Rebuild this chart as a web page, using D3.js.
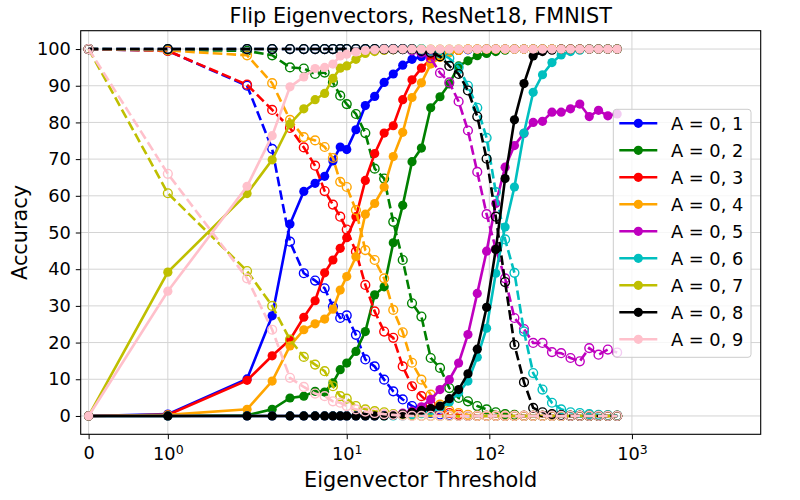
<!DOCTYPE html>
<html>
<head>
<meta charset="utf-8">
<script src="https://cdn.jsdelivr.net/npm/d3@7"></script>
<style>
  body { margin: 0; background: #fff; }
  text { font-family: "DejaVu Sans", sans-serif; }
</style>
</head>
<body>
<div id="chart"></div>
<script>
// eigenvector thresholds (x values)
var thresholds = [0, 1, 2, 3, 4, 5, 6, 7, 8, 9, 10, 11.6, 13.5, 15.7, 18.3, 21.2, 24.7, 28.7, 33.4, 38.8,
  45.1, 52.4, 60.9, 70.8, 82.3, 95.7, 111, 129, 150, 175, 203, 236, 275, 319, 371, 431, 502, 583, 678, 788];

// solid lines = accuracy, dashed lines = flipped
var acc1 = [0, 0.5, 10.1, 27.3, 52.3, 61.2, 63.4, 65.3, 69.5, 73.3, 72.6, 78.0, 84.6, 87.1, 90.9, 93.2, 95.6, 97.2, 97.9, 98.5,
  99.0, 99.3, 99.6, 99.8, 99.9, 100, 100, 100, 100, 100, 100, 100, 100, 100, 100, 100, 100, 100, 100, 100];
var flip1 = [100, 99.5, 90.0, 72.8, 47.5, 38.9, 36.9, 34.8, 29.8, 26.7, 27.4, 22.1, 15.4, 13.5, 9.9, 6.7, 4.5, 2.7, 1.5, 0.8,
  0.4, 0.2, 0.1, 0, 0, 0, 0, 0, 0, 0, 0, 0, 0, 0, 0, 0, 0, 0, 0, 0];
var acc2 = [0, 0, 0.2, 1.8, 4.9, 5.4, 6.7, 6.5, 9.0, 12.6, 14.4, 17.6, 23.0, 33.0, 35.2, 47.2, 57.4, 69.3, 73.0, 84.0,
  87.0, 90.5, 95.4, 96.8, 98.2, 98.8, 99.3, 99.7, 100, 100, 100, 100, 100, 100, 100, 100, 100, 100, 100, 100];
var flip2 = [100, 99.8, 99.5, 98.3, 95.0, 94.7, 93.2, 93.6, 90.9, 87.3, 85.0, 82.3, 77.1, 67.4, 64.7, 52.9, 42.5, 30.7, 27.1, 15.8,
  13.1, 7.6, 4.9, 4.0, 2.7, 1.8, 1.0, 0.5, 0.3, 0, 0, 0, 0, 0, 0, 0, 0, 0, 0, 0];
var acc3 = [0, 0.3, 9.7, 16.4, 20.8, 26.9, 31.4, 39.0, 42.5, 45.7, 48.6, 54.3, 64.2, 71.5, 77.1, 79.1, 86.2, 91.6, 94.8, 97.2,
  98.6, 99.3, 99.7, 100, 100, 100, 100, 100, 100, 100, 100, 100, 100, 100, 100, 100, 100, 100, 100, 100];
var flip3 = [100, 99.5, 90.3, 83.4, 78.5, 73.2, 68.2, 61.3, 57.6, 54.3, 50.8, 44.8, 35.7, 28.5, 23.0, 21.3, 13.5, 8.1, 5.4, 3.1,
  1.5, 0.8, 0.3, 0.1, 0, 0, 0, 0, 0, 0, 0, 0, 0, 0, 0, 0, 0, 0, 0, 0];
var acc4 = [0, 0.3, 1.8, 9.5, 19.1, 23.5, 25.1, 26.4, 29.1, 34.3, 38.0, 43.4, 55.0, 57.9, 62.4, 70.7, 77.3, 86.8, 90.8, 95.9,
  97.7, 99.0, 99.6, 100, 100, 100, 100, 100, 100, 100, 100, 100, 100, 100, 100, 100, 100, 100, 100, 100];
var flip4 = [100, 99.6, 98.3, 90.7, 80.7, 76.0, 75.1, 73.3, 70.3, 63.8, 62.4, 56.1, 45.2, 42.5, 37.5, 28.9, 22.8, 14.5, 9.9, 5.8,
  3.1, 1.5, 0.8, 0.3, 0, 0, 0, 0, 0, 0, 0, 0, 0, 0, 0, 0, 0, 0, 0, 0];
var acc5 = [0, 0, 0, 0, 0, 0, 0, 0, 0, 0, 0, 0, 0, 0, 0.2, 0.4, 0.8, 1.3, 2.5, 4.5,
  7.2, 9.9, 14.4, 22.2, 33.4, 44.9, 57.9, 67.8, 73.7, 77.0, 80.0, 80.3, 82.8, 82.8, 83.7, 85.0, 81.6, 83.3, 81.8, 82.3];
var flip5 = [100, 100, 100, 100, 100, 100, 100, 100, 100, 100, 100, 100, 100, 100, 100, 100, 100, 99.6, 99.0, 97.5,
  93.5, 90.9, 85.7, 77.8, 66.5, 55.0, 45.5, 37.5, 26.7, 23.7, 19.9, 19.9, 17.4, 17.1, 15.8, 14.9, 18.5, 16.7, 18.1, 17.3];
var acc6 = [0, 0, 0, 0, 0, 0, 0, 0, 0, 0, 0, 0, 0, 0, 0, 0, 0, 0.3, 0.6, 1.2,
  2.2, 3.8, 6.3, 9.5, 16.0, 23.9, 38.9, 51.5, 62.4, 77.1, 88.2, 93.0, 96.3, 98.4, 99.3, 99.7, 100, 100, 100, 100];
var flip6 = [100, 100, 100, 100, 100, 100, 100, 100, 100, 100, 100, 100, 100, 100, 100, 100, 100, 100, 100, 99.5,
  98.8, 97.5, 95.0, 90.0, 84.0, 75.8, 61.0, 48.1, 39.0, 23.0, 11.7, 7.2, 3.6, 1.8, 1.0, 0.8, 0.5, 0.3, 0.2, 0.1];
var acc7 = [0, 39.2, 60.6, 69.8, 79.6, 83.7, 86.2, 87.9, 92.0, 94.8, 95.4, 97.2, 98.8, 99.3, 99.6, 99.8, 99.9, 100, 100, 100,
  100, 100, 100, 100, 100, 100, 100, 100, 100, 100, 100, 100, 100, 100, 100, 100, 100, 100, 100, 100];
var flip7 = [100, 60.7, 39.5, 30.0, 20.8, 16.1, 14.0, 12.2, 8.1, 5.4, 4.7, 2.7, 1.8, 1.3, 1.0, 0.5, 0.3, 0.1, 0, 0,
  0, 0, 0, 0, 0, 0, 0, 0, 0, 0, 0, 0, 0, 0, 0, 0, 0, 0, 0, 0];
var acc8 = [0, 0, 0, 0, 0, 0, 0, 0, 0, 0, 0, 0, 0, 0, 0, 0.2, 0.5, 1.0, 1.5, 2.0,
  2.7, 4.7, 7.2, 11.5, 18.2, 29.6, 45.4, 64.7, 80.7, 90.6, 98.1, 99.3, 99.7, 100, 100, 100, 100, 100, 100, 100];
var flip8 = [100, 100, 100, 100, 100, 100, 100, 100, 100, 100, 100, 100, 100, 100, 100, 100, 100, 100, 99.5, 99.0,
  98.0, 95.4, 93.2, 88.7, 81.6, 70.1, 54.3, 36.5, 19.4, 9.2, 2.2, 1.0, 0.5, 0.2, 0, 0, 0, 0, 0, 0];
var acc9 = [0, 34.0, 62.6, 76.4, 89.7, 92.4, 94.7, 95.0, 95.9, 98.1, 98.6, 99.2, 99.6, 99.8, 100, 100, 100, 100, 100, 100,
  100, 100, 100, 100, 100, 100, 100, 100, 100, 100, 100, 100, 100, 100, 100, 100, 100, 100, 100, 100];
var flip9 = [100, 66.0, 37.5, 23.5, 10.4, 7.9, 6.1, 5.4, 4.0, 3.6, 2.7, 1.8, 1.2, 0.8, 0.5, 0.3, 0.1, 0, 0, 0,
  0, 0, 0, 0, 0, 0, 0, 0, 0, 0, 0, 0, 0, 0, 0, 0, 0, 0, 0, 0];

var labels = ["A = 0, 1", "A = 0, 2", "A = 0, 3", "A = 0, 4", "A = 0, 5", "A = 0, 6", "A = 0, 7", "A = 0, 8", "A = 0, 9"];
var colors = ["#0000ff", "#008000", "#ff0000", "#ffa500", "#bf00bf", "#00bfbf", "#bfbf00", "#000000", "#ffc0cb"];
var solid = [acc1, acc2, acc3, acc4, acc5, acc6, acc7, acc8, acc9];
var dashed = [flip1, flip2, flip3, flip4, flip5, flip6, flip7, flip8, flip9];

var xTicks = [0, 1, 10, 100, 1000];
var xTickExp = [null, "0", "1", "2", "3"];
var yTicks = [0, 10, 20, 30, 40, 50, 60, 70, 80, 90, 100];

var w = 800, h = 500;
var pLeft = 80.7, pRight = 760.7, pTop = 30.7, pBottom = 434.3;

// matplotlib style symlog, linthresh 2, linscale 1
function symlog(v) {
  var a = Math.abs(v), adj = 1 / (1 - 1 / 10);
  if (a <= 2) return v * adj;
  return Math.sign(v) * 2 * (adj + Math.log10(a / 2));
}

var x = d3.scaleLinear().domain([symlog(-0.1), symlog(8000)]).range([pLeft, pRight]);
var y = d3.scaleLinear().domain([-5, 105]).range([pBottom, pTop]);

var svg = d3.select("#chart").append("svg")
  .attr("width", w)
  .attr("height", h);

// grid
svg.append("g").selectAll("line")
  .data(xTicks)
  .enter().append("line")
  .attr("x1", function(d) { return x(symlog(d)); })
  .attr("x2", function(d) { return x(symlog(d)); })
  .attr("y1", pTop).attr("y2", pBottom)
  .attr("stroke", "#d4d4d4").attr("stroke-width", 1);
svg.append("g").selectAll("line")
  .data(yTicks)
  .enter().append("line")
  .attr("x1", pLeft).attr("x2", pRight)
  .attr("y1", function(d) { return y(d); })
  .attr("y2", function(d) { return y(d); })
  .attr("stroke", "#d4d4d4").attr("stroke-width", 1);

var line = d3.line()
  .x(function(d, i) { return x(symlog(thresholds[i])); })
  .y(function(d) { return y(d); });

var plot = svg.append("g");
for (var k = 0; k < 9; k++) {
  var c = colors[k];
  plot.append("path")
    .attr("d", line(solid[k]))
    .attr("fill", "none").attr("stroke", c).attr("stroke-width", 2.6);
  plot.append("g").selectAll("circle")
    .data(solid[k])
    .enter().append("circle")
    .attr("cx", function(d, i) { return x(symlog(thresholds[i])); })
    .attr("cy", function(d) { return y(d); })
    .attr("r", 4.6)
    .attr("fill", c);

  plot.append("path")
    .attr("d", line(dashed[k]))
    .attr("fill", "none").attr("stroke", c).attr("stroke-width", 2.6)
    .attr("stroke-dasharray", "9.6,4.2");
  plot.append("g").selectAll("circle")
    .data(dashed[k])
    .enter().append("circle")
    .attr("cx", function(d, i) { return x(symlog(thresholds[i])); })
    .attr("cy", function(d) { return y(d); })
    .attr("r", 4.4)
    .attr("fill", "none")
    .attr("stroke", c).attr("stroke-width", 1.4);
}

// axes
var xAxis = svg.append("g")
  .attr("transform", "translate(0," + pBottom + ")")
  .call(d3.axisBottom(x).tickValues(xTicks.map(symlog)).tickSize(4.9).tickPadding(4.9));
xAxis.select(".domain").remove();
xAxis.selectAll(".tick text").each(function(d, i) {
  var t = d3.select(this).text(null)
    .attr("font-size", "17.8px").attr("font-family", "DejaVu Sans").attr("fill", "#000");
  if (xTickExp[i] == null) {
    t.attr("y", 12.5).text("0");
  } else {
    t.attr("y", 13.5);
    t.append("tspan").text("10");
    t.append("tspan").attr("dy", "-0.55em").attr("font-size", "12.5px").text(xTickExp[i]);
  }
});

var yAxis = svg.append("g")
  .attr("transform", "translate(" + pLeft + ",0)")
  .call(d3.axisLeft(y).tickValues(yTicks).tickSize(4.9).tickPadding(4.9));
yAxis.select(".domain").remove();
yAxis.selectAll(".tick text")
  .attr("font-size", "17.8px").attr("font-family", "DejaVu Sans").attr("fill", "#000");

svg.append("rect")
  .attr("x", pLeft).attr("y", pTop)
  .attr("width", pRight - pLeft).attr("height", pBottom - pTop)
  .attr("fill", "none").attr("stroke", "#000").attr("stroke-width", 1.1);

// titles
svg.append("text")
  .attr("x", (pLeft + pRight) / 2).attr("y", 22.5)
  .attr("text-anchor", "middle").attr("font-size", "20.8px")
  .text("Flip Eigenvectors, ResNet18, FMNIST");
svg.append("text")
  .attr("x", (pLeft + pRight) / 2).attr("y", 487)
  .attr("text-anchor", "middle").attr("font-size", "20.8px")
  .text("Eigenvector Threshold");
svg.append("text")
  .attr("transform", "translate(27," + (pTop + pBottom) / 2 + ") rotate(-90)")
  .attr("text-anchor", "middle").attr("font-size", "20.8px")
  .text("Accuracy");

// legend
var lg = svg.append("g");
lg.append("rect")
  .attr("x", 613.3).attr("y", 109.3)
  .attr("width", 137.7).attr("height", 248)
  .attr("rx", 3)
  .attr("fill", "#fff").attr("fill-opacity", 0.8)
  .attr("stroke", "#cccccc").attr("stroke-width", 1);
var items = lg.selectAll("g.item")
  .data(labels)
  .enter().append("g")
  .attr("class", "item")
  .attr("transform", function(d, i) { return "translate(0," + (123.3 + i * 27) + ")"; });
items.append("line")
  .attr("x1", 619.3).attr("x2", 657.3)
  .attr("stroke", function(d, i) { return colors[i]; })
  .attr("stroke-width", 2.6);
items.append("circle")
  .attr("cx", 638.3).attr("r", 4.6)
  .attr("fill", function(d, i) { return colors[i]; });
items.append("text")
  .attr("x", 671).attr("dy", "0.36em")
  .attr("font-size", "17.8px")
  .text(function(d) { return d; });
</script>
</body>
</html>
